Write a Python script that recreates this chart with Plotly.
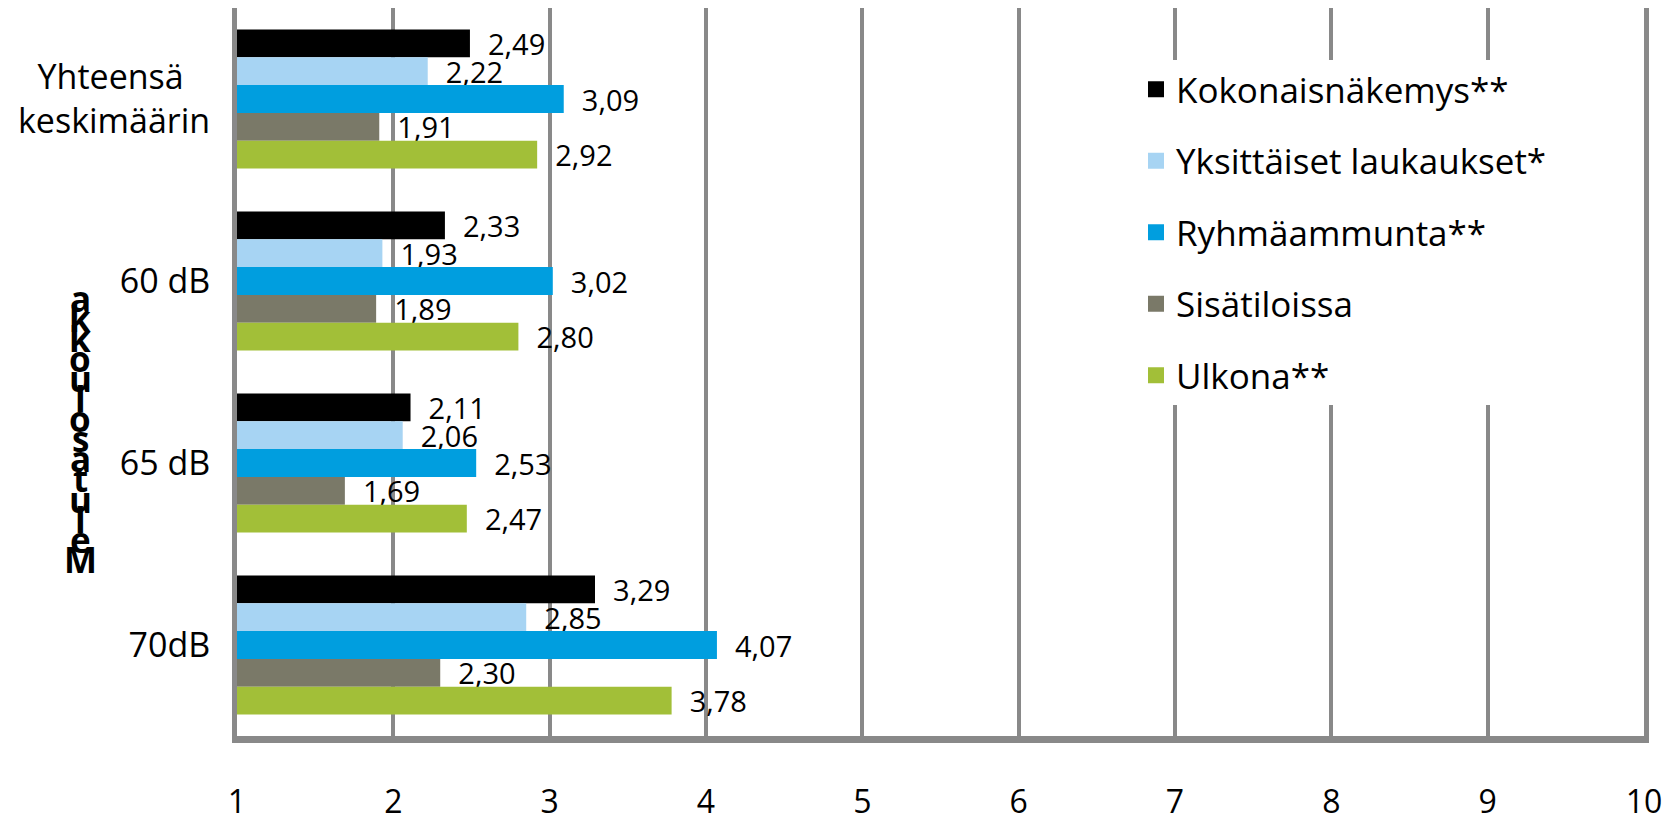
import plotly.graph_objects as go

categories = ["Yhteensä\u00a0\u00a0\u00a0<br>keskimäärin", "60 dB", "65 dB", "70dB"]
series_names = ["Kokonaisnäkemys**", "Yksittäiset laukaukset*", "Ryhmäammunta**", "Sisätiloissa", "Ulkona**"]
kokonais = [2.49, 2.33, 2.11, 3.29]
yksittaiset = [2.22, 1.93, 2.06, 2.85]
ryhma = [3.09, 3.02, 2.53, 4.07]
sisa = [1.91, 1.89, 1.69, 2.30]
ulkona = [2.92, 2.80, 2.47, 3.78]
colors = ["#000000", "#A7D4F3", "#009EDF", "#7A7968", "#A2BF38"]
x_ticks = [1, 2, 3, 4, 5, 6, 7, 8, 9, 10]
axis_base = 1
y_title = "Melutasoluokka"

# page offset (default body margin) compensated
OFF = 8
W, H = 1674 - OFF, 824 - OFF
# desired window coords of plot area
WIN_L, WIN_R, WIN_T, WIN_B = 237, 1644, 8, 736
ML, MT = WIN_L - OFF, WIN_T - OFF
MR = W - (WIN_R - OFF)
MB = H - (WIN_B - OFF)
PH = H - MT - MB
PW = W - ML - MR


def px_to_paper_x(xw):
    return (xw - WIN_L) / PW


def px_to_paper_y(yw):
    return (WIN_B - yw) / PH


fig = go.Figure()
for i, (name, vals) in enumerate(zip(series_names, [kokonais, yksittaiset, ryhma, sisa, ulkona])):
    fig.add_trace(go.Bar(
        name=name,
        y=categories,
        x=[v - axis_base for v in vals],
        base=axis_base,
        customdata=vals,
        orientation="h",
        marker=dict(color=colors[i], line=dict(width=0)),
        texttemplate="\u00a0\u00a0%{customdata:.2f}",
        textposition="outside",
        textfont=dict(family="Open Sans", size=29, color="#000000"),
        constraintext="none",
        cliponaxis=False,
        legendgroup=name,
        showlegend=False,
    ))
    # legend swatch (larger square than the default bar swatch)
    fig.add_trace(go.Scatter(
        name=name, x=[None], y=[None], mode="markers",
        marker=dict(symbol="square", size=16, color=colors[i]),
        legendgroup=name, showlegend=True, hoverinfo="skip",
    ))

# vertical stacked axis title letters (reversed stacking as in the original)
letters = list(y_title)[::-1]
top_px, step = 298, 20.1
for k, ch in enumerate(letters):
    ypx = top_px + k * step
    fig.add_annotation(
        text=ch, xref="paper", yref="paper",
        x=px_to_paper_x(80), y=px_to_paper_y(ypx),
        showarrow=False, xanchor="center", yanchor="middle",
        font=dict(family="Open Sans", size=35, color="#000000", weight="bold"),
    )

fig.update_layout(
    width=W, height=H,
    margin=dict(l=ML, r=MR, t=MT, b=MB, autoexpand=False),
    paper_bgcolor="white", plot_bgcolor="white",
    separators=",.",
    barmode="group", bargap=0.236, bargroupgap=0,
    font=dict(family="Open Sans", color="#000000"),
    showlegend=True,
    legend=dict(
        x=px_to_paper_x(1136), y=px_to_paper_y(60), xanchor="left", yanchor="top",
        bgcolor="white", borderwidth=0,
        font=dict(family="Open Sans", size=35, color="#000000"),
        traceorder="grouped", tracegroupgap=23, itemsizing="trace",
    ),
    xaxis=dict(
        range=[1, 10], tickvals=x_ticks, ticktext=[str(t) for t in x_ticks],
        showgrid=True, gridcolor="#898989", gridwidth=4,
        zeroline=False, showline=True, linecolor="#898989", linewidth=7,
        ticks="", ticklabelstandoff=32, automargin=False,
        tickfont=dict(family="Open Sans", size=32, color="#000000"),
    ),
    yaxis=dict(
        autorange="reversed", type="category",
        showgrid=False, zeroline=False,
        showline=True, mirror=True, linecolor="#898989", linewidth=5,
        ticks="", ticklabelstandoff=15, automargin=False,
        tickfont=dict(family="Open Sans", size=34, color="#000000"),
    ),
)

fig.write_html("out.html")
